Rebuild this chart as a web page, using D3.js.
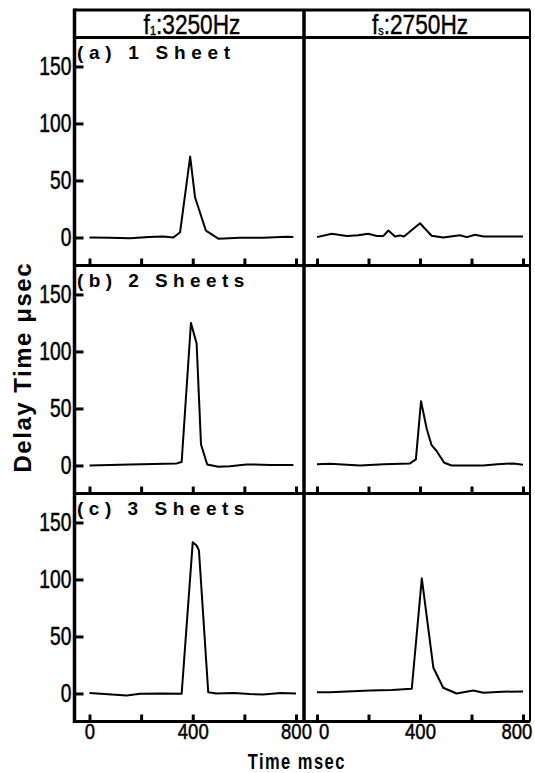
<!DOCTYPE html>
<html><head><meta charset="utf-8">
<script src="https://cdn.jsdelivr.net/npm/d3@7"></script>
<style>body{margin:0;background:#fff}svg{display:block}</style>
</head><body>
<svg id="c" width="535" height="773"></svg>
<script>
// ---- data ----
const columnFreqs = ["3250Hz", "2750Hz"];
const columnSubs = ["1", "s"];
const rowLabels = ["(a) 1 Sheet", "(b) 2 Sheets", "(c) 3 Sheets"];
const yTickValues = [0, 50, 100, 150];
const xTickValues = [0, 200, 400, 600, 800];
const xTickLabels = [0, 400, 800];
const yTitle = "Delay Time \u03bcsec";
const xTitle = "Time msec";

// f1 column (3250 Hz)
const timeA1 = [0, 80, 157, 230, 286, 325, 351, 390, 409, 451, 499, 583, 673, 764, 790];
const delayA1 = [0, -0.3, -0.6, 0.3, 0.9, 0, 4.6, 71, 35, 6, -1.1, -0.3, -0.3, 0.6, 0.3];
const timeA2 = [0, 157, 338, 357, 393, 415, 432, 456, 499, 544, 608, 700, 790];
const delayA2 = [0, 0.9, 1.8, 3, 125, 107, 18.4, 0.9, -1.1, -0.6, 0.9, 0.5, 0.3];
const timeA3 = [0, 144, 196, 280, 357, 400, 415, 424, 460, 492, 560, 620, 673, 740, 800];
const delayA3 = [0.3, -1.8, -0.3, 0, -0.3, 132.7, 129.8, 125.4, 1.1, 0, 0.5, -0.5, -1, 0.5, 0];
// fs column (2750 Hz)
const timeS1 = [0, 57, 116, 160, 199, 232, 257, 277, 303, 322, 338, 400, 445, 490, 555, 582, 614, 647, 800];
const delayS1 = [0.3, 3.2, 1.2, 2, 3.2, 1.2, 1.2, 6.1, 0.9, 1.8, 0.9, 12.5, 1.5, 0, 2, 0.3, 2.3, 0.9, 0.9];
const timeS2 = [0, 50, 167, 260, 361, 384, 404, 426, 445, 465, 494, 523, 646, 700, 762, 800];
const delayS2 = [1, 1.5, 0, 1, 1.8, 5.3, 56.4, 32.2, 17.8, 12.5, 2.4, 0, 0, 1, 1.8, 0.6];
const timeS3 = [0, 50, 206, 290, 368, 407, 452, 490, 542, 607, 646, 720, 800];
const delayS3 = [1, 1.1, 2.6, 3, 4.1, 101, 22.5, 5, 0, 2.6, 0.6, 1.5, 1.8];

const seriesTable = [
  [[timeA1, delayA1], [timeS1, delayS1]],
  [[timeA2, delayA2], [timeS2, delayS2]],
  [[timeA3, delayA3], [timeS3, delayS3]]
];

// ---- layout ----
const svg = d3.select("#c");
const F = {left: 74.5, right: 530, top: 10, header: 37.5, bottom: 721.5, mid: 304};
const rowH = (F.bottom - F.header) / 3;
const xScales = [
  d3.scaleLinear().domain([0, 800]).range([89.5, 296]),
  d3.scaleLinear().domain([0, 800]).range([317, 523])
];
const font = "'Liberation Sans', Arial, sans-serif";

// frame
const fr = svg.append("g").attr("stroke", "#000").attr("fill", "none");
fr.append("line").attr("x1", F.left).attr("x2", F.left).attr("y1", F.top - 1.5).attr("y2", F.bottom + 1.5).attr("stroke-width", 3.5);
fr.append("line").attr("x1", F.right).attr("x2", F.right).attr("y1", F.top).attr("y2", F.bottom).attr("stroke-width", 2);
fr.append("line").attr("x1", F.mid).attr("x2", F.mid).attr("y1", F.top).attr("y2", F.bottom).attr("stroke-width", 3.5);
fr.append("line").attr("x1", F.left).attr("x2", F.right).attr("y1", F.top).attr("y2", F.top).attr("stroke-width", 3);
fr.append("line").attr("x1", F.left).attr("x2", F.right).attr("y1", F.header).attr("y2", F.header).attr("stroke-width", 3);
for (let r = 1; r <= 3; r++) {
  const yy = F.header + r * rowH;
  fr.append("line").attr("x1", F.left).attr("x2", F.right).attr("y1", yy).attr("y2", yy).attr("stroke-width", 3);
}

// header texts
const headerCenters = [192, 420];
columnFreqs.forEach((f, i) => {
  const t = svg.append("text")
    .attr("transform", `translate(${headerCenters[i]},34) scale(0.84,1)`)
    .attr("text-anchor", "middle").attr("font-family", font).attr("font-size", 27)
    .attr("stroke", "#000").attr("stroke-width", 0.4);
  t.append("tspan").text("f");
  t.append("tspan").attr("font-size", 13).attr("dy", 1).text(columnSubs[i]);
  t.append("tspan").attr("dy", -1).text(":" + f);
});

const line = d3.line().x(d => d.x).y(d => d.y);

seriesTable.forEach((row, r) => {
  const top = F.header + r * rowH;
  const bottom = top + rowH;
  const y = d3.scaleLinear().domain([-24.6, 175.4]).range([bottom, top]);

  row.forEach(([times, vals], c) => {
    const x = xScales[c];
    const pts = times.map((t, i) => ({x: x(t), y: y(vals[i])}));
    svg.append("path").attr("d", line(pts)).attr("fill", "none")
      .attr("stroke", "#000").attr("stroke-width", 2).attr("stroke-linejoin", "round");

    // bottom ticks
    const ax = d3.axisBottom(x).tickValues(xTickValues).tickSize(-7).tickPadding(2)
      .tickFormat(d => (r === 2 && xTickLabels.includes(d)) ? String(d) : "");
    const g = svg.append("g").attr("transform", `translate(0,${bottom})`).call(ax);
    g.select(".domain").remove();
    g.selectAll(".tick line").attr("stroke-width", 3);
    g.selectAll("text").attr("font-family", font).attr("font-size", 22).attr("fill", "#000")
      .attr("stroke", "#000").attr("stroke-width", 0.5)
      .attr("transform", "scale(0.84,1)")
      .attr("dx", d => (c === 1 && d === 0) ? 8 : (c === 1 && d === 800) ? -8 : 0);
  });

  // y axis (left column)
  const ay = d3.axisLeft(y).tickValues(yTickValues).tickSize(-9).tickPadding(4);
  const gy = svg.append("g").attr("transform", `translate(${F.left},0)`).call(ay);
  gy.select(".domain").remove();
  gy.selectAll(".tick line").attr("stroke-width", 3);
  gy.selectAll("text").attr("font-family", font).attr("font-size", 25).attr("fill", "#000")
    .attr("stroke", "#000").attr("stroke-width", 0.5)
    .attr("transform", "scale(0.77,1)");

  // row label
  svg.append("text").attr("x", 77).attr("y", top + 21)
    .attr("font-family", font).attr("font-size", 19).attr("font-weight", "bold")
    .attr("textLength", rowLabels[r].length * 14.2 - 3)
    .attr("lengthAdjust", "spacing")
    .text(rowLabels[r]);
});

// axis titles
svg.append("text").attr("transform", "translate(31,368) rotate(-90)")
  .attr("text-anchor", "middle").attr("font-family", font).attr("font-size", 24)
  .attr("font-weight", "bold")
  .attr("textLength", 209).attr("lengthAdjust", "spacing").text(yTitle);
svg.append("text").attr("transform", "translate(296,769) scale(0.75,1)")
  .attr("text-anchor", "middle").attr("font-family", font).attr("font-size", 22)
  .attr("font-weight", "bold")
  .attr("textLength", 129).attr("lengthAdjust", "spacing").text(xTitle);
</script>
</body></html>
